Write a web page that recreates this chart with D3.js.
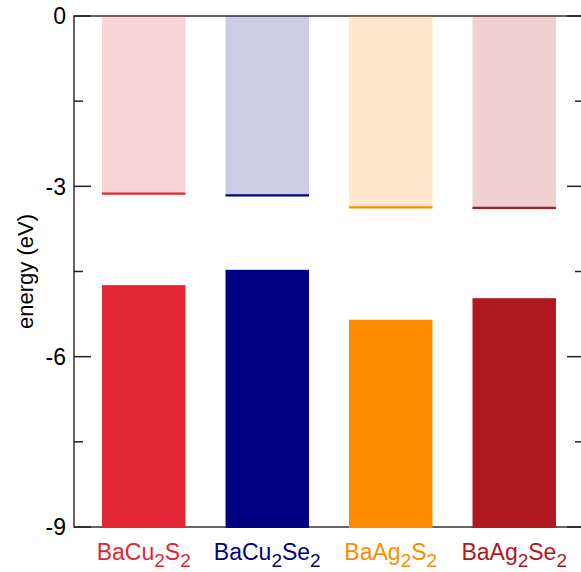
<!DOCTYPE html>
<html>
<head>
<meta charset="utf-8">
<script src="https://cdn.jsdelivr.net/npm/d3@7"></script>
<style>
  body { margin: 0; background: #fff; }
  text { font-family: "Liberation Sans", Arial, sans-serif; }
</style>
</head>
<body>
<div id="chart"></div>
<script>
// compounds (formula parts: [text, isSubscript])
var compounds = ["BaCu2S2", "BaCu2Se2", "BaAg2S2", "BaAg2Se2"];
var formulaParts = [
  [["BaCu", 0], ["2", 1], ["S", 0], ["2", 1]],
  [["BaCu", 0], ["2", 1], ["Se", 0], ["2", 1]],
  [["BaAg", 0], ["2", 1], ["S", 0], ["2", 1]],
  [["BaAg", 0], ["2", 1], ["Se", 0], ["2", 1]]
];
var colors = ["#e32636", "#000080", "#ff8c00", "#b0171f"];
// conduction band minimum (upper, light bars from 0 down to this)
var cbm = [-3.13, -3.16, -3.37, -3.38];
// valence band maximum (lower, solid bars from -9 up to this)
var vbm = [-4.74, -4.47, -5.35, -4.97];
var yTicks = [0, -3, -6, -9];
var yMinor = [-1.5, -4.5, -7.5];

var width = 581, height = 572;
var margin = { top: 16, left: 74 };
var plotW = 510, plotH = 511;

var svg = d3.select("#chart").append("svg")
    .attr("width", width)
    .attr("height", height);

var g = svg.append("g")
    .attr("transform", "translate(" + margin.left + "," + margin.top + ")");

var x = d3.scaleBand()
    .domain(compounds)
    .range([0, plotW])
    .paddingInner(0.324)
    .paddingOuter(0.227);

var y = d3.scaleLinear()
    .domain([0, -9])
    .range([0, plotH]);

// frame
g.append("rect")
    .attr("x", 0).attr("y", 0)
    .attr("width", plotW).attr("height", plotH)
    .attr("fill", "none")
    .attr("stroke", "#333")
    .attr("stroke-width", 1.5);

// left ticks
g.selectAll(".tickL")
    .data(yTicks)
    .enter().append("line")
      .attr("x1", 0).attr("x2", 17)
      .attr("y1", function(d) { return y(d); })
      .attr("y2", function(d) { return y(d); })
      .attr("stroke", "#222").attr("stroke-width", 1.5);
g.selectAll(".tickLm")
    .data(yMinor)
    .enter().append("line")
      .attr("x1", 0).attr("x2", 9)
      .attr("y1", function(d) { return y(d); })
      .attr("y2", function(d) { return y(d); })
      .attr("stroke", "#222").attr("stroke-width", 1.5);
// right ticks
g.selectAll(".tickR")
    .data(yTicks)
    .enter().append("line")
      .attr("x1", plotW - 17).attr("x2", plotW)
      .attr("y1", function(d) { return y(d); })
      .attr("y2", function(d) { return y(d); })
      .attr("stroke", "#222").attr("stroke-width", 1.5);
g.selectAll(".tickRm")
    .data(yMinor)
    .enter().append("line")
      .attr("x1", plotW - 9).attr("x2", plotW)
      .attr("y1", function(d) { return y(d); })
      .attr("y2", function(d) { return y(d); })
      .attr("stroke", "#222").attr("stroke-width", 1.5);

g.selectAll(".ylab")
    .data(yTicks)
    .enter().append("text")
      .attr("x", -8)
      .attr("y", function(d) { return y(d); })
      .attr("dy", "0.36em")
      .style("text-anchor", "end")
      .style("font-size", "23px")
      .attr("fill", "#000")
      .text(function(d) { return d; });

// light bars (0 -> cbm)
g.selectAll(".cb")
    .data(compounds)
    .enter().append("rect")
      .attr("x", function(d) { return x(d); })
      .attr("y", y(0))
      .attr("width", x.bandwidth())
      .attr("height", function(d, i) { return y(cbm[i]) - y(0); })
      .attr("fill", function(d, i) { return colors[i]; })
      .attr("fill-opacity", 0.2);

g.selectAll(".cbline")
    .data(compounds)
    .enter().append("line")
      .attr("x1", function(d) { return x(d); })
      .attr("x2", function(d) { return x(d) + x.bandwidth(); })
      .attr("y1", function(d, i) { return y(cbm[i]); })
      .attr("y2", function(d, i) { return y(cbm[i]); })
      .attr("stroke", function(d, i) { return colors[i]; })
      .attr("stroke-width", 2.2);

// solid bars (-9 -> vbm)
g.selectAll(".vb")
    .data(compounds)
    .enter().append("rect")
      .attr("x", function(d) { return x(d); })
      .attr("y", function(d, i) { return y(vbm[i]); })
      .attr("width", x.bandwidth())
      .attr("height", function(d, i) { return y(-9) - y(vbm[i]) + 1; })
      .attr("fill", function(d, i) { return colors[i]; });

// category labels with subscripts
var labels = g.selectAll(".clab")
    .data(compounds)
    .enter().append("text")
      .attr("x", function(d) { return x(d) + x.bandwidth() / 2; })
      .attr("y", plotH + 33)
      .style("text-anchor", "middle")
      .style("font-size", "23px")
      .attr("fill", function(d, i) { return colors[i]; });

labels.each(function(d, i) {
  var t = d3.select(this);
  var parts = formulaParts[i];
  for (var k = 0; k < parts.length; k++) {
    var sp = t.append("tspan").text(parts[k][0]);
    if (parts[k][1]) {
      sp.style("font-size", "19px").attr("dy", "7");
    } else if (k > 0) {
      sp.attr("dy", "-7");
    }
  }
});

// y axis title
svg.append("text")
    .attr("transform", "translate(33," + (margin.top + plotH / 2) + ") rotate(-90)")
    .style("text-anchor", "middle")
    .style("font-size", "22px")
    .attr("fill", "#000")
    .text("energy (eV)");
</script>
</body>
</html>
